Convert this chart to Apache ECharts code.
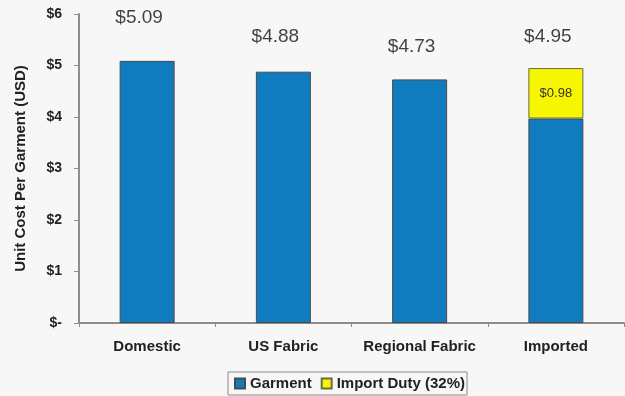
<!DOCTYPE html>
<html>
<head>
<meta charset="utf-8">
<script src="https://cdn.jsdelivr.net/npm/echarts@6/dist/echarts.min.js"></script>
<style>
  html, body { margin: 0; padding: 0; background: #f7f7f7; }
  #chart { width: 625px; height: 396px; }
</style>
</head>
<body>
<div id="chart"></div>
<script>
// Unit cost per garment by sourcing scenario (USD)
const categories = ['Domestic', 'US Fabric', 'Regional Fabric', 'Imported'];
const garmentCost = [5.09, 4.88, 4.73, 3.97];
const importDuty = [null, null, null, 0.98];
const seriesNames = ['Garment', 'Import Duty (32%)'];
const yTicks = [0, 1, 2, 3, 4, 5, 6];

// Total cost per scenario, shown above each column
const totals = garmentCost.map((g, i) => +(g + (importDuty[i] || 0)).toFixed(2));

// Extra lift of each total label above its column (px)
const totalLabelLift = [33, 25, 23, 21];

const FONT = '"Liberation Sans", Arial, sans-serif';
const chart = echarts.init(document.getElementById('chart'), null, { renderer: 'canvas' });

chart.setOption({
  backgroundColor: '#f7f7f7',
  animation: false,
  textStyle: { fontFamily: FONT },
  grid: { left: 79, right: 1, top: 14, bottom: 73 },
  legend: {
    data: seriesNames,
    left: 228,
    top: 372,
    orient: 'horizontal',
    itemWidth: 10,
    itemHeight: 10,
    itemGap: 9,
    padding: [3, 2, 3, 6],
    borderColor: '#8a8a8a',
    borderWidth: 1,
    icon: 'rect',
    textStyle: { fontFamily: FONT, fontSize: 15, fontWeight: 'bold', color: '#222', lineHeight: 17 }
  },
  xAxis: {
    type: 'category',
    data: categories,
    axisLine: { lineStyle: { color: '#8c8c8c', width: 2 } },
    axisTick: { show: true, interval: 0, length: 4, lineStyle: { color: '#8c8c8c', width: 1 } },
    axisLabel: { interval: 0, margin: 16, fontFamily: FONT, fontSize: 15, fontWeight: 'bold', color: '#222' }
  },
  yAxis: {
    type: 'value',
    min: yTicks[0],
    max: yTicks[yTicks.length - 1],
    interval: 1,
    name: 'Unit Cost Per Garment (USD)',
    nameLocation: 'middle',
    nameGap: 51,
    nameTextStyle: { fontFamily: FONT, fontSize: 15, fontWeight: 'bold', color: '#222' },
    axisLine: { show: true, lineStyle: { color: '#8c8c8c', width: 2 } },
    axisTick: { show: true, length: 5, lineStyle: { color: '#8c8c8c', width: 1 } },
    splitLine: { show: false },
    axisLabel: {
      margin: 17,
      fontFamily: FONT,
      fontSize: 14,
      fontWeight: 'bold',
      color: '#222',
      formatter: v => (v === 0 ? '$-' : '$' + v)
    }
  },
  series: [
    {
      name: seriesNames[0],
      type: 'bar',
      stack: 'cost',
      barWidth: 55,
      data: garmentCost,
      itemStyle: { color: '#107cbf', borderColor: '#4a4a4a', borderWidth: 1 }
    },
    {
      name: seriesNames[1],
      type: 'bar',
      stack: 'cost',
      barWidth: 55,
      data: importDuty,
      itemStyle: { color: '#f6f600', borderColor: '#6a6a4a', borderWidth: 1 },
      label: {
        show: true,
        position: 'inside',
        fontFamily: FONT,
        fontSize: 13,
        color: '#333',
        formatter: p => '$' + p.value.toFixed(2)
      }
    },
    {
      name: 'Total',
      type: 'scatter',
      symbolSize: 0,
      silent: true,
      data: totals.map((t, i) => ({
        value: t,
        label: { distance: totalLabelLift[i] }
      })),
      label: {
        show: true,
        position: 'top',
        offset: [-8, 0],
        fontFamily: FONT,
        fontSize: 19,
        lineHeight: 20,
        color: '#111',
        formatter: p => '$' + p.value.toFixed(2)
      }
    }
  ]
});
</script>
</body>
</html>
